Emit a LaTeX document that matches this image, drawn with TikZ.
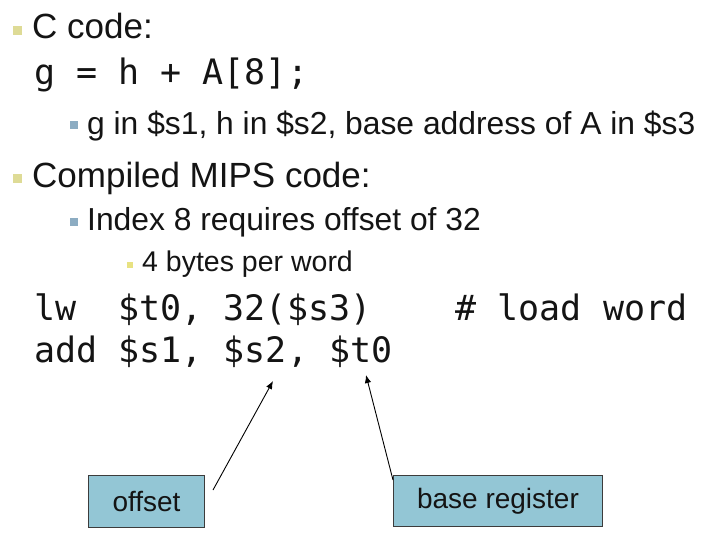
\documentclass[tikz,border=0pt]{standalone}
\usepackage{fontspec}
\setmainfont{Liberation Sans}
\newfontfamily\boxfont{Liberation Sans}
\newfontfamily\codefont{DejaVu Sans Mono}
\usetikzlibrary{arrows.meta}
\definecolor{bulA}{RGB}{222,219,150}
\definecolor{bulB}{RGB}{140,172,194}
\definecolor{bulC}{RGB}{232,226,130}
\definecolor{boxfill}{RGB}{147,198,213}
\definecolor{boxline}{RGB}{60,60,60}
\definecolor{ink}{RGB}{20,20,20}
\tikzset{
 txt/.style={anchor=base west, inner sep=0pt, text=ink},
 lone/.style={txt, font=\fontsize{35}{40}\selectfont},
 ltwo/.style={txt, font=\fontsize{31.8}{36}\selectfont},
 lthree/.style={txt, font=\fontsize{28.5}{33}\selectfont},
 code/.style={txt, font=\codefont\fontsize{35}{40}\selectfont},
 bone/.style={fill=bulA, inner sep=0pt, minimum size=9pt},
 btwo/.style={fill=bulB, inner sep=0pt, minimum size=7.5pt},
 bthree/.style={fill=bulC, inner sep=0pt, minimum size=6pt},
 labelbox/.style={draw=boxline, line width=1pt, fill=boxfill, anchor=north west, inner sep=0pt, font=\boxfont\fontsize{28}{34}\selectfont, text=ink},
 pointer/.style={-{Latex[length=8pt,width=6.5pt]}, line width=0.9pt, black}
}
\begin{document}
\begin{tikzpicture}[x=1pt,y=-1pt]
\useasboundingbox[fill=white] (0,0) rectangle (707,544);
% bullets
\node[bone] (b1) at (17,30) {};
\node[lone] (t1) at (32,38) {C code:};
\node[code] (c1) at (34,84) {g = h + A[8];};
\node[btwo] (b2) at (74,125) {};
\node[ltwo] (t2) at (87,134) {g in \$s1, h in \$s2, base address of A in \$s3};
\node[bone] (b3) at (17,178) {};
\node[lone] (t3) at (32,187) {Compiled MIPS code:};
\node[btwo] (b4) at (74,222) {};
\node[ltwo] (t4) at (87,230) {Index 8 requires offset of 32};
\node[bthree] (b5) at (130,265) {};
\node[lthree] (t5) at (142,271) {4 bytes per word};
% code
\node[code] (c2) at (34,320) {lw~~\$t0, 32(\$s3)~~~~\#~load word};
\node[code] (c3) at (34,362) {add \$s1, \$s2, \$t0};
% labels
\node[labelbox, minimum width=116pt, minimum height=52pt] (offbox) at (88,475) {offset};
\node[labelbox, minimum width=209pt, minimum height=51pt] (basebox) at (393,475) {base register};
% arrows
\coordinate (offtail) at (213,490);
\coordinate (s2tip) at (273,381);
\coordinate (t0tip) at (366,375);
\draw[pointer] (offtail) -- (s2tip);
\draw[pointer] ([yshift=-5pt]basebox.north west) -- (t0tip);
\end{tikzpicture}
\end{document}
